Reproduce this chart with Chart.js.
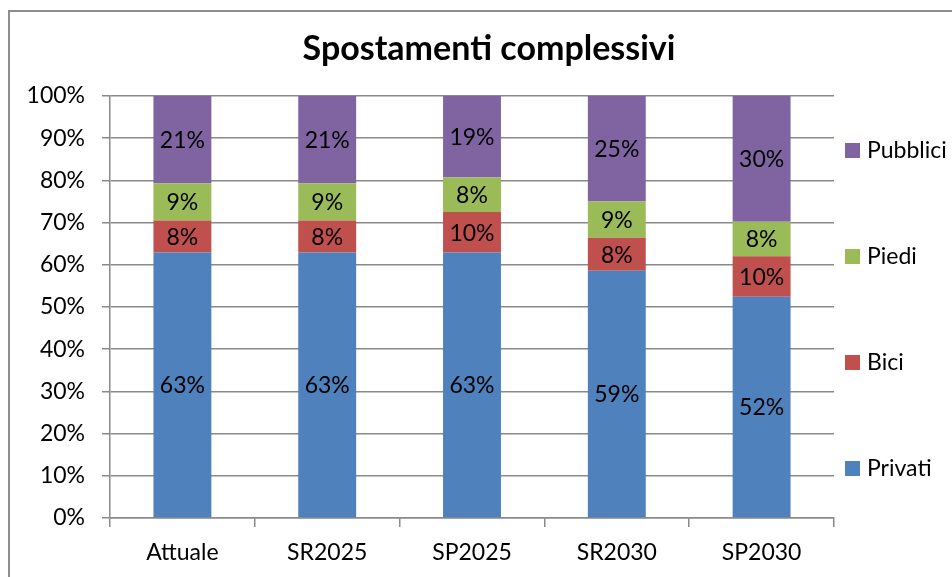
<!DOCTYPE html>
<html lang="it">

<head>
  <meta charset="UTF-8">
  <title>Spostamenti complessivi</title>
  <script src="https://cdn.jsdelivr.net/npm/chart.js"></script>
  <style>
    body { margin: 0; background: #fff; }
    #wrap { position: relative; width: 952px; height: 577px; overflow: hidden; }
    #frame {
      position: absolute; left: 8px; top: 10px; right: -4px; bottom: -4px;
      border-left: 2px solid #8e8e8e; border-top: 2px solid #8e8e8e;
    }
    canvas { position: absolute; left: 0; top: 0; }
  </style>
</head>

<body>
  <div id="wrap">
    <div id="frame"></div>
    <canvas id="modalChart" width="952" height="577"></canvas>
  </div>

  <script>
    const scenari = ['Attuale', 'SR2025', 'SP2025', 'SR2030', 'SP2030'];
    // quote modali in %, ogni colonna somma a 100
    const privati  = [62.9, 62.9, 62.9, 58.6, 52.4];
    const bici     = [7.6, 7.6, 9.6, 7.8, 9.6];
    const piedi    = [8.8, 8.8, 8.2, 8.6, 8.2];
    const pubblici = [20.7, 20.7, 19.3, 25.0, 29.8];
    const yTicks = [0, 10, 20, 30, 40, 50, 60, 70, 80, 90, 100];
    const titolo = 'Spostamenti complessivi';

    const FONT = 'Lato, "Open Sans", sans-serif';
    const GRID = '#8a8a8a';

    // titolo centrato sull'intero riquadro (che continua oltre il bordo destro)
    const chartTitle = {
      id: 'chartTitle',
      afterDraw(chart) {
        const ctx = chart.ctx;
        ctx.save();
        ctx.font = 'bold 34px ' + FONT;
        ctx.fillStyle = '#000';
        ctx.textAlign = 'center';
        ctx.textBaseline = 'alphabetic';
        ctx.fillText(titolo, chart.width / 2 + 13, 60);
        ctx.restore();
      }
    };

    // percentuale arrotondata al centro di ogni segmento
    const segmentLabels = {
      id: 'segmentLabels',
      afterDatasetsDraw(chart) {
        const ctx = chart.ctx;
        ctx.save();
        ctx.font = '23px ' + FONT;
        ctx.fillStyle = '#000';
        ctx.textAlign = 'center';
        ctx.textBaseline = 'middle';
        chart.data.datasets.forEach((ds, i) => {
          chart.getDatasetMeta(i).data.forEach((bar, j) => {
            const p = bar.getCenterPoint();
            ctx.fillText(Math.round(ds.data[j]) + '%', p.x, p.y + 1);
          });
        });
        ctx.restore();
      }
    };

    // legenda a destra, voci distribuite sull'altezza dell'area grafico
    const sideLegend = {
      id: 'sideLegend',
      afterDraw(chart) {
        const { ctx, chartArea } = chart;
        const items = chart.data.datasets.slice().reverse();
        const mid = (chartArea.top + chartArea.bottom) / 2 + 2;
        const step = 106;
        ctx.save();
        ctx.font = '23px ' + FONT;
        ctx.textAlign = 'left';
        ctx.textBaseline = 'middle';
        items.forEach((ds, i) => {
          const y = mid + (i - (items.length - 1) / 2) * step;
          ctx.fillStyle = ds.backgroundColor;
          ctx.fillRect(chartArea.right + 11, y - 7, 15, 15);
          ctx.fillStyle = '#000';
          ctx.fillText(ds.label, chartArea.right + 33, y + 1);
        });
        ctx.restore();
      }
    };

    new Chart(document.getElementById('modalChart').getContext('2d'), {
      type: 'bar',
      data: {
        labels: scenari,
        datasets: [
          { label: 'Privati', data: privati, backgroundColor: '#4F81BD' },
          { label: 'Bici', data: bici, backgroundColor: '#C0504D' },
          { label: 'Piedi', data: piedi, backgroundColor: '#9BBB59' },
          { label: 'Pubblici', data: pubblici, backgroundColor: '#8064A2' },
        ],
      },
      options: {
        responsive: false,
        animation: false,
        layout: { padding: { left: 10, right: 118, top: 96, bottom: 0 } },
        datasets: { bar: { barPercentage: 0.4, categoryPercentage: 1 } },
        scales: {
          x: {
            stacked: true,
            grid: { drawOnChartArea: false, offset: true, tickLength: 9, color: GRID, lineWidth: 1.5 },
            border: { color: GRID, width: 1.5 },
            ticks: { color: '#000', font: { family: FONT, size: 23 }, padding: 12 },
            afterFit: (s) => { s.height = 59; },
          },
          y: {
            stacked: true,
            min: 0,
            max: 100,
            afterBuildTicks: (s) => { s.ticks = yTicks.map(v => ({ value: v })); },
            grid: { tickLength: 8, color: GRID, lineWidth: 1.5 },
            border: { color: GRID, width: 1.5 },
            ticks: { color: '#000', font: { family: FONT, size: 23 }, padding: 17, callback: (v) => v + '%' },
            afterFit: (s) => { s.width = 100; },
          },
        },
        plugins: {
          legend: { display: false },
          tooltip: { enabled: false },
          title: { display: false },
        },
      },
      plugins: [segmentLabels, sideLegend, chartTitle],
    });
  </script>
</body>

</html>
